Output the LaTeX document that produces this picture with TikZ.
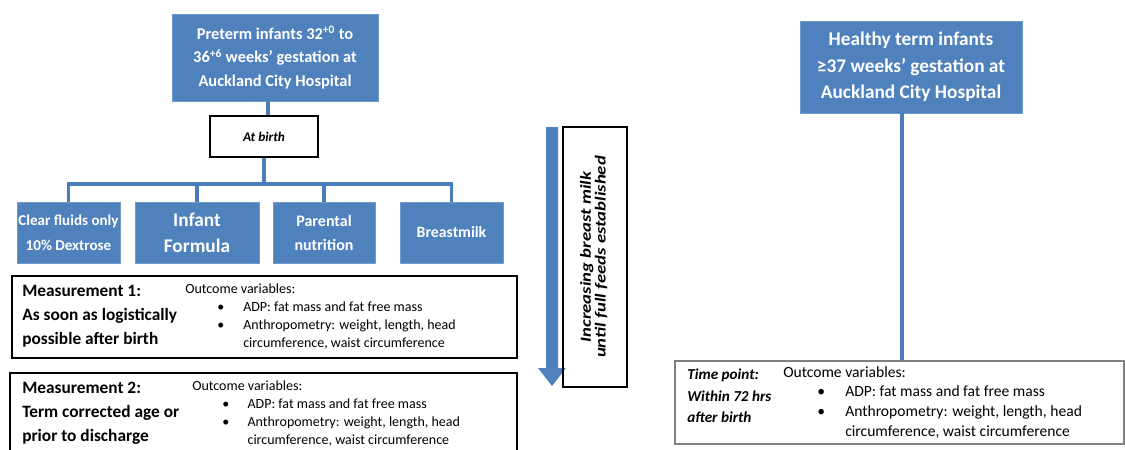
\documentclass[tikz,border=0pt]{standalone}
\usepackage{fontspec}
\setmainfont{Carlito}
\definecolor{boxblue}{HTML}{4F81BD}
\definecolor{lineblue}{HTML}{4A7EBB}
\begin{document}
\begin{tikzpicture}[x=0.75pt,y=-0.75pt,
  bluebox/.style={fill=boxblue,draw=boxblue!80!white,line width=0.6pt,text=white,font=\bfseries,align=center,inner sep=0pt},
  conn/.style={draw=lineblue,line width=2.3pt},
  measbox/.style={draw=black,line width=2pt,inner sep=0pt},
  plain/.style={inner sep=0pt,align=left,anchor=north west}]
\useasboundingbox (0,0) rectangle (1125,450);
% left tree
\node[bluebox,minimum width=154.5pt,minimum height=65.25pt,font=\bfseries\fontsize{12.3}{17.6}\selectfont] (pre) at (275,57.5)
  {Preterm infants 32\textsuperscript{+0} to\\36\textsuperscript{+6} weeks’ gestation at\\Auckland City Hospital};
\node[draw=black,line width=1.3pt,minimum width=81pt,minimum height=30.75pt,inner sep=0pt,font=\bfseries\itshape\fontsize{10}{12}\selectfont] (ab) at (264,136.5) {At birth};
\node[bluebox,minimum width=77.25pt,minimum height=45.75pt,font=\bfseries\fontsize{11.3}{19}\selectfont] (b1) at (68.5,232.5) {Clear fluids only\\10\% Dextrose};
\node[bluebox,minimum width=93pt,minimum height=45.75pt,font=\bfseries\fontsize{14.5}{19.5}\selectfont] (b2) at (197,232.5) {Infant\\Formula};
\node[bluebox,minimum width=76.5pt,minimum height=45.75pt,font=\bfseries\fontsize{12}{18}\selectfont] (b3) at (324,232.5) {Parental\\nutrition};
\node[bluebox,minimum width=77.25pt,minimum height=45.75pt,font=\bfseries\fontsize{11.8}{18}\selectfont] (b4) at (451.5,232.5) {Breastmilk};
\coordinate (bar) at (0,184);
\draw[conn] (pre.south -| 268,0) -- (ab.north -| 268,0);
\draw[conn] (ab.south) -- (ab.south |- bar);
\draw[conn] (b1.north) -- (b1.north |- bar) -- (b4.north |- bar) -- (b4.north);
\draw[conn] (b2.north) -- (b2.north |- bar);
\draw[conn] (b3.north) -- (b3.north |- bar);
% measurement boxes
\node[measbox,minimum width=378.75pt,minimum height=61.5pt] (m1) at (264.5,317) {};
\node[measbox,minimum width=380.25pt,minimum height=65.25pt] (m2) at (263.5,416.5) {};
\node[plain,font=\bfseries\fontsize{13}{18}\selectfont] (m1t) at (22,285) {Measurement 1:\\As soon as logistically\\possible after birth};
\node[plain,font=\fontsize{10.5}{13.5}\selectfont] (m1o) at (185,284) {Outcome variables:\\
  \hspace*{24pt}\makebox[19.5pt][l]{•}ADP: fat mass and fat free mass\\
  \hspace*{24pt}\makebox[19.5pt][l]{•}Anthropometry: weight, length, head\\
  \hspace*{43.5pt}circumference, waist circumference};
\node[plain,font=\bfseries\fontsize{13}{18}\selectfont] (m2t) at (22,382) {Measurement 2:\\Term corrected age or\\prior to discharge};
\node[plain,font=\fontsize{10.5}{13.5}\selectfont] (m2o) at (192,381) {Outcome variables:\\
  \hspace*{22.5pt}\makebox[19pt][l]{•}ADP: fat mass and fat free mass\\
  \hspace*{22.5pt}\makebox[19pt][l]{•}Anthropometry: weight, length, head\\
  \hspace*{41.5pt}circumference, waist circumference};
% arrow and rotated label
\fill[boxblue] (546,127) -- (558,127) -- (558,368) -- (566,368) -- (552,386) -- (538,368) -- (546,368) -- cycle;
\node[draw=black,line width=1pt,minimum width=48pt,minimum height=195pt,inner sep=0pt] (inc) at (595,257) {};
\node[rotate=90,inner sep=0pt] (inct) at (inc.center)
  {\scalebox{1.22}[1]{\begin{tabular}{@{}c@{}}\fontsize{11.5}{12.75}\selectfont\bfseries\itshape Increasing breast milk\\[-1pt]
  \fontsize{11.5}{12.75}\selectfont\bfseries\itshape until full feeds established\end{tabular}}};
% right tree
\node[bluebox,minimum width=166.5pt,minimum height=69pt,font=\bfseries\fontsize{14.5}{20}\selectfont] (ht) at (911,67) {Healthy term infants\\≥37 weeks’ gestation at\\Auckland City Hospital};
\node[draw=gray,line width=1.2pt,minimum width=336.75pt,minimum height=62.25pt,inner sep=0pt] (tp) at (899.5,402.5) {};
\draw[conn] (ht.south -| 902,0) -- (tp.north -| 902,0);
\node[plain,font=\bfseries\itshape\fontsize{11.4}{16}\selectfont] (tpt) at (687,369) {Time point:\\Within 72 hrs\\after birth};
\node[plain,font=\fontsize{11.7}{14.75}\selectfont] (tpo) at (783,366) {Outcome variables:\\
  \hspace*{25.5pt}\makebox[21pt][l]{•}ADP: fat mass and fat free mass\\
  \hspace*{25.5pt}\makebox[21pt][l]{•}Anthropometry: weight, length, head\\
  \hspace*{46.5pt}circumference, waist circumference};
\end{tikzpicture}
\end{document}
